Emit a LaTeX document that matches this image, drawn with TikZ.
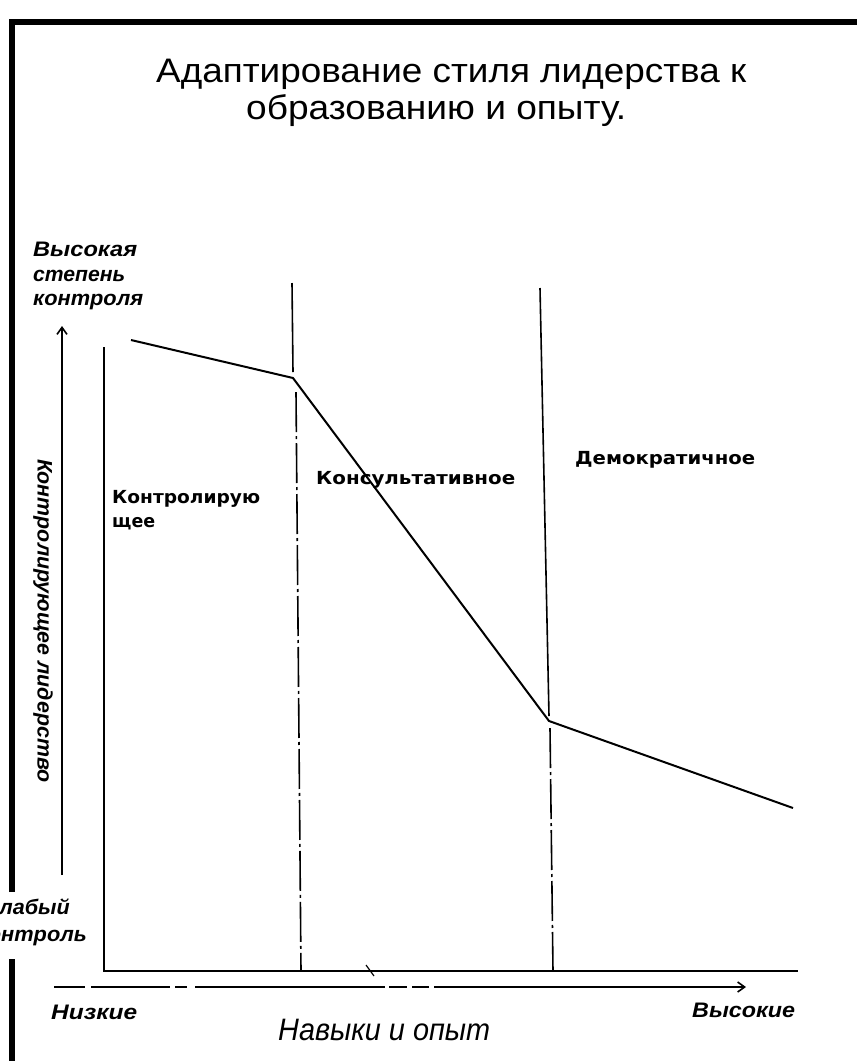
\documentclass[tikz,border=0pt]{standalone}
\usepackage{fontspec}
\setmainfont{Liberation Sans}
\newfontfamily\regfont{DejaVu Sans}
\usepackage{graphicx}
\usetikzlibrary{arrows.meta}
\newcommand\fitw[2]{\resizebox{#1pt}{\height}{#2}}
\begin{document}
\begin{tikzpicture}[x=1pt,y=-1pt,
  titletext/.style={font=\fontsize{34}{38}\selectfont, anchor=base west, inner sep=0pt},
  axlab/.style={font=\fontsize{21}{24}\selectfont\itshape\bfseries, anchor=base west, inner sep=0pt},
  axbig/.style={font=\fontsize{31}{34}\selectfont\itshape, anchor=base west, inner sep=0pt},
  region/.style={font=\regfont\fontsize{18}{21}\selectfont\bfseries, anchor=base west, inner sep=0pt},
  frame/.style={line width=6pt},
  curve/.style={line width=2pt},
  axis/.style={line width=2pt},
  divider/.style={line width=1.6pt},
  divlow/.style={line width=1.6pt, dash pattern=on 40pt off 4pt on 3pt off 4pt},
  arr/.style={line width=1.6pt, -{Straight Barb[length=7pt,width=10pt]}},
  darr/.style={line width=1.6pt, -{Straight Barb[length=7pt,width=10pt]},
    dash pattern=on 31pt off 6pt on 79pt off 5pt on 12pt off 8pt on 190pt off 4pt on 18pt off 5pt on 17pt off 5pt on 400pt}
]
\useasboundingbox (0,0) rectangle (857,1061);
% frame
\draw[frame] (12,1061) -- (12,959);
\draw[frame] (12,892) -- (12,22) -- (857,22);
% title
\node[titletext] (title1) at (156,82) {\fitw{590}{Адаптирование стиля лидерства к}};
\node[titletext] (title2) at (246,119) {\fitw{380}{образованию и опыту.}};
% y-axis labels
\node[axlab] (hi1) at (33,256) {\fitw{104}{Высокая}};
\node[axlab] (hi2) at (33,281) {\fitw{92}{степень}};
\node[axlab] (hi3) at (33,305) {\fitw{110}{контроля}};
\node[axlab, anchor=base east] (lo1) at (70,914) {\fitw{86}{Слабый}};
\node[axlab, anchor=base east] (lo2) at (87,941) {\fitw{110}{контроль}};
\node[axlab, rotate=-90, anchor=center] (ylab) at (43,621) {\fitw{323}{Контролирующее лидерство}};
% x-axis labels
\node[axlab] (xlo) at (51,1019) {\fitw{86}{Низкие}};
\node[axlab] (xhi) at (692,1017) {\fitw{103}{Высокие}};
\node[axbig] (xlab) at (278,1040) {\fitw{212}{Навыки и опыт}};
% region labels
\node[region] (r1a) at (112,503) {\fitw{148}{Контролирую}};
\node[region] (r1b) at (112,527) {\fitw{43}{щее}};
\node[region] (r2) at (316,484) {\fitw{199}{Консультативное}};
\node[region] (r3) at (575,464) {\fitw{180}{Демократичное}};
% axes
\coordinate (yt) at (104,347);
\coordinate (o) at (104,971);
\coordinate (xe) at (798,971);
\draw[axis] (yt) -- (o) -- (xe);
\coordinate (tk1) at (366,965);
\coordinate (tk2) at (374,976);
\draw[line width=1.2pt] (tk1) -- (tk2);
% arrows
\coordinate (va0) at (62,875);
\coordinate (va1) at (62,326);
\draw[arr] (va0) -- (va1);
\coordinate (ha0) at (54,987);
\coordinate (ha1) at (746,987);
\draw[darr] (ha0) -- (ha1);
% curve
\coordinate (p0) at (131,340);
\coordinate (k1) at (293,378);
\coordinate (k2) at (549,721);
\coordinate (p3) at (793,808);
\draw[curve] (p0) -- (k1) -- (k2) -- (p3);
% dividers
\coordinate (d1t) at (292,283);
\coordinate (d1a) at (293,372);
\coordinate (d1m) at (296,392);
\coordinate (d1b) at (301,971);
\draw[divider] (d1t) -- (d1a);
\draw[divlow] (d1m) -- (d1b);
\coordinate (d2t) at (540,288);
\coordinate (d2a) at (549,716);
\coordinate (d2m) at (550,728);
\coordinate (d2b) at (553,971);
\draw[divider] (d2t) -- (d2a);
\draw[divlow] (d2m) -- (d2b);
\end{tikzpicture}
\end{document}
